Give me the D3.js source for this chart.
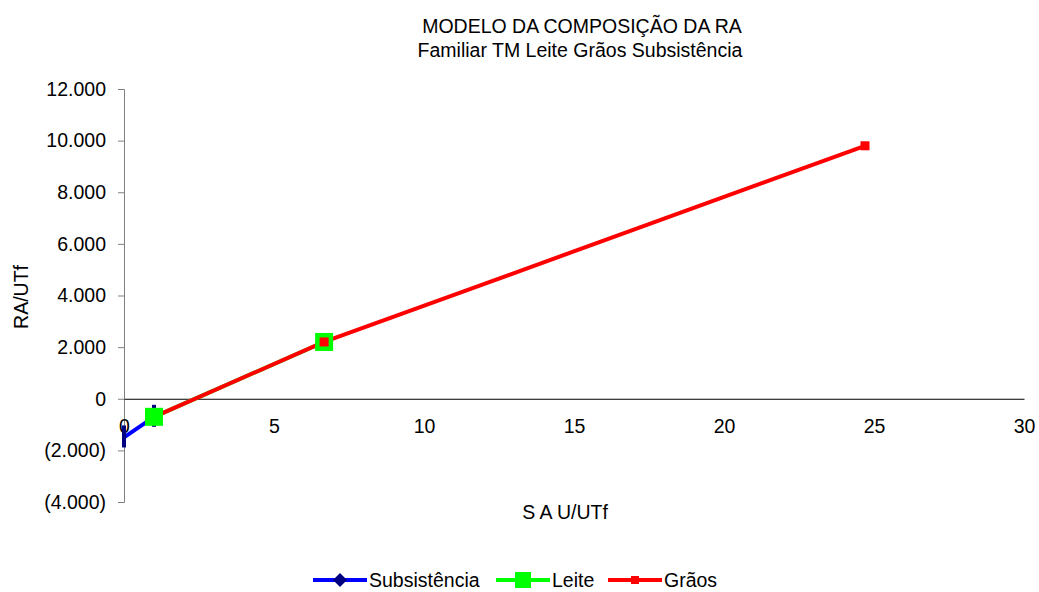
<!DOCTYPE html>
<html>
<head>
<meta charset="utf-8">
<script src="https://cdn.jsdelivr.net/npm/d3@7"></script>
<style>
  body { margin: 0; background: #fff; }
  text { font-family: "Liberation Sans", Arial, sans-serif; fill: #000; }
</style>
</head>
<body>
<div id="chart"></div>
<script>
// data (x = S A U/UTf, y = RA/UTf)
const subsistencia = [{x: 0, y: -1500}, {x: 1, y: -700}];
const leite = [{x: 1, y: -700}, {x: 6.67, y: 2200}];
const graos = [{x: 1, y: -700}, {x: 6.67, y: 2200}, {x: 24.7, y: 9800}];
const xTicks = [0, 5, 10, 15, 20, 25, 30];
const yTicks = [-4000, -2000, 0, 2000, 4000, 6000, 8000, 10000, 12000];

const width = 1039, height = 592;
const fs = "19.5px";

const svg = d3.select("#chart").append("svg")
    .attr("width", width)
    .attr("height", height);

const x = d3.scaleLinear().domain([0, 30]).range([124, 1024]);
const y = d3.scaleLinear().domain([-4000, 12000]).range([502, 89]);

const fmt = v => {
    if (v === 0) return "0";
    const s = d3.format(",")(Math.abs(v)).replace(/,/g, ".");
    return v < 0 ? "(" + s + ")" : s;
};

// title
svg.append("text").attr("x", 582).attr("y", 33).attr("text-anchor", "middle")
    .attr("font-size", fs).text("MODELO DA COMPOSIÇÃO DA RA");
svg.append("text").attr("x", 580).attr("y", 57).attr("text-anchor", "middle")
    .attr("font-size", fs).text("Familiar TM Leite Grãos Subsistência");

// y axis
const yAxis = svg.append("g").attr("transform", `translate(${x(0)},0)`)
    .call(d3.axisLeft(y).tickValues(yTicks).tickFormat(fmt).tickSizeOuter(0).tickSize(6).tickPadding(12));
yAxis.select(".domain").attr("stroke", "#808080");
yAxis.selectAll(".tick line").attr("stroke", "#808080");
yAxis.selectAll("text").attr("font-size", fs).attr("font-family", "Liberation Sans, Arial, sans-serif");

// x axis at y = 0
const xAxis = svg.append("g").attr("transform", `translate(0,${y(0)})`)
    .call(d3.axisBottom(x).tickValues(xTicks).tickFormat(d3.format("d")).tickSizeOuter(0).tickSize(0).tickPadding(20));
xAxis.select(".domain").attr("stroke", "#000");
xAxis.selectAll("text").attr("font-size", fs).attr("font-family", "Liberation Sans, Arial, sans-serif");

// axis titles
svg.append("text").attr("x", 565).attr("y", 519).attr("text-anchor", "middle")
    .attr("font-size", fs).text("S A U/UTf");
svg.append("text").attr("transform", "translate(28,297) rotate(-90)").attr("text-anchor", "middle")
    .attr("font-size", fs).text("RA/UTf");

const line = d3.line().x(d => x(d.x)).y(d => y(d.y));

// Subsistência
svg.append("path").datum(subsistencia).attr("d", line)
    .attr("fill", "none").attr("stroke", "#0000ff").attr("stroke-width", 4);
svg.selectAll(".m-sub").data(subsistencia).enter().append("rect")
    .attr("x", d => x(d.x) - 2).attr("y", d => y(d.y) - 12)
    .attr("width", 4).attr("height", 22).attr("fill", "#000080");

// Leite
svg.append("path").datum(leite).attr("d", line)
    .attr("fill", "none").attr("stroke", "#00ff00").attr("stroke-width", 4);

// Grãos
svg.append("path").datum(graos).attr("d", line)
    .attr("fill", "none").attr("stroke", "#ff0000").attr("stroke-width", 4);

// green markers sit over the red line
svg.selectAll(".m-leite").data(leite).enter().append("rect")
    .attr("x", d => x(d.x) - 9).attr("y", d => y(d.y) - 9)
    .attr("width", 18).attr("height", 18).attr("fill", "#00ff00");
svg.selectAll(".m-graos").data(graos.slice(1)).enter().append("rect")
    .attr("x", d => x(d.x) - 4.5).attr("y", d => y(d.y) - 4.5)
    .attr("width", 9).attr("height", 9).attr("fill", "#ff0000");

// legend
const legend = [
    {name: "Subsistência", color: "#0000ff", x0: 313, marker: "diamond"},
    {name: "Leite", color: "#00ff00", x0: 496, marker: "big"},
    {name: "Grãos", color: "#ff0000", x0: 608, marker: "small"}
];
const ly = 580;
const lg = svg.selectAll(".leg").data(legend).enter().append("g");
lg.append("line").attr("x1", d => d.x0).attr("x2", d => d.x0 + 54)
    .attr("y1", ly).attr("y2", ly).attr("stroke", d => d.color).attr("stroke-width", 4);
lg.each(function(d) {
    const g = d3.select(this), cx = d.x0 + 27;
    if (d.marker === "diamond") {
        g.append("path").attr("d", `M${cx},${ly - 7}L${cx + 7},${ly}L${cx},${ly + 7}L${cx - 7},${ly}Z`).attr("fill", "#000080");
    } else if (d.marker === "big") {
        g.append("rect").attr("x", cx - 8).attr("y", ly - 8).attr("width", 16).attr("height", 16).attr("fill", d.color);
    } else {
        g.append("rect").attr("x", cx - 4).attr("y", ly - 4).attr("width", 8).attr("height", 8).attr("fill", d.color);
    }
});
lg.append("text").attr("x", d => d.x0 + 56).attr("y", ly + 7)
    .attr("font-size", fs).text(d => d.name);
</script>
</body>
</html>
